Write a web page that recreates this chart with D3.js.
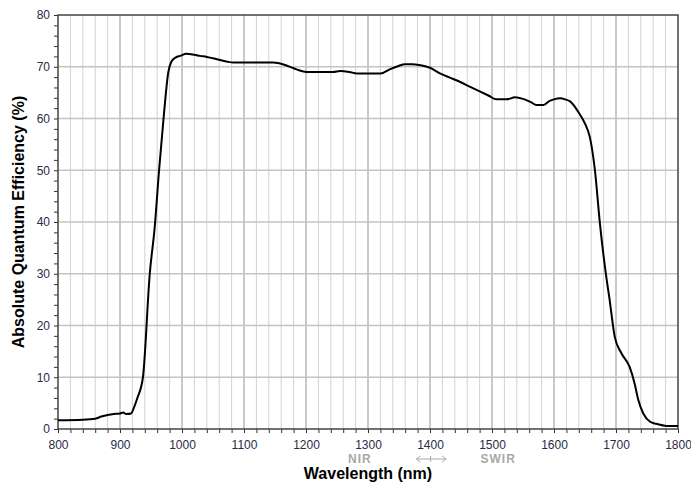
<!DOCTYPE html>
<html><head><meta charset="utf-8">
<script src="https://cdn.jsdelivr.net/npm/d3@7"></script>
<style>body{margin:0;background:#fff}svg{display:block}</style>
</head><body>
<svg id="c" width="691" height="484"></svg>
<script>
const wavelength = [800,840,860,870,880,890,900,905,910,918,922,928,937,948,956,963,970,978,983,990,997,1007,1020,1029,1040,1055,1072,1083,1100,1147,1165,1180,1201,1244,1255,1270,1282,1320,1335,1348,1360,1372,1384,1400,1416,1432,1448,1465,1481,1495,1507,1524,1537,1550,1562,1572,1583,1593,1600,1610,1618,1626,1639,1650,1658,1666,1674,1685,1689,1698,1709,1722,1730,1736,1744,1755,1765,1782,1800];
const efficiency = [1.7,1.8,2.0,2.4,2.7,2.9,3.0,3.2,2.9,3.0,4.0,6.0,10.0,30.0,39.0,50.0,59.7,69.0,71.0,71.8,72.1,72.5,72.3,72.1,71.9,71.5,71.0,70.8,70.8,70.8,70.4,69.7,69.0,69.0,69.2,69.0,68.7,68.7,69.5,70.1,70.5,70.5,70.3,69.8,68.7,67.9,67.1,66.1,65.2,64.4,63.7,63.7,64.1,63.8,63.2,62.6,62.6,63.4,63.7,63.9,63.7,63.3,61.3,59.0,56.3,50.0,39.8,28.8,25.6,17.8,14.6,12.0,8.8,5.6,3.0,1.4,1.0,0.6,0.6];
const xTicks = [800,900,1000,1100,1200,1300,1400,1500,1600,1700,1800];
const yTicks = [0,10,20,30,40,50,60,70,80];

const svg = d3.select("#c");
const L=58, R=678, T=15, B=429;
const x = d3.scaleLinear().domain([800,1800]).range([L,R]);
const y = d3.scaleLinear().domain([0,80]).range([B,T]);

const minorX = d3.range(820,1800,20).filter(v=>v%100!==0);
svg.append("g").selectAll("line").data(minorX).join("line")
  .attr("x1",d=>x(d)).attr("x2",d=>x(d)).attr("y1",T).attr("y2",B)
  .attr("stroke","#d2d2d2").attr("stroke-width",1);
svg.append("g").selectAll("line").data(xTicks.slice(1,-1)).join("line")
  .attr("x1",d=>x(d)).attr("x2",d=>x(d)).attr("y1",T).attr("y2",B)
  .attr("stroke","#bcbcbc").attr("stroke-width",1.6);
svg.append("g").selectAll("line").data(yTicks.slice(1,-1)).join("line")
  .attr("x1",L).attr("x2",R).attr("y1",d=>y(d)).attr("y2",d=>y(d))
  .attr("stroke","#c4c4c4").attr("stroke-width",1.6);

const xAxis = d3.axisBottom(x).tickValues(d3.range(800,1801,20)).tickSize(4).tickFormat(d=>xTicks.includes(d)?d:"");
const gx = svg.append("g").attr("transform",`translate(0,${B})`).call(xAxis);
gx.select(".domain").remove();
gx.selectAll("line").attr("stroke","#333");
gx.selectAll("text").attr("font-family","Liberation Sans, Arial, sans-serif").attr("font-size",12).attr("fill","#2a2a4a").attr("dy","1.05em");

const yAxis = d3.axisLeft(y).tickValues(d3.range(0,81,2)).tickSize(4).tickFormat(d=>yTicks.includes(d)?d:"");
const gy = svg.append("g").attr("transform",`translate(${L},0)`).call(yAxis);
gy.select(".domain").remove();
gy.selectAll("line").attr("stroke","#333");
gy.selectAll("text").attr("font-family","Liberation Sans, Arial, sans-serif").attr("font-size",12).attr("fill","#2a2a4a").attr("x",-8);

svg.append("rect").attr("x",L).attr("y",T).attr("width",R-L).attr("height",B-T)
  .attr("fill","none").attr("stroke","#444").attr("stroke-width",1.5);

const line = d3.line().x((d,i)=>x(wavelength[i])).y(d=>y(d)).curve(d3.curveMonotoneX);
svg.append("path").datum(efficiency).attr("d",line).attr("fill","none")
  .attr("stroke","#000").attr("stroke-width",2).attr("stroke-linejoin","round");

svg.append("text").attr("x",368).attr("y",479).attr("text-anchor","middle")
  .attr("font-family","Liberation Sans, Arial, sans-serif").attr("font-weight","bold").attr("font-size",16)
  .text("Wavelength (nm)");
svg.append("text").attr("transform",`translate(24,${(T+B)/2}) rotate(-90)`).attr("text-anchor","middle")
  .attr("font-family","Liberation Sans, Arial, sans-serif").attr("font-weight","bold").attr("font-size",16)
  .text("Absolute Quantum Efficiency (%)");

const ann = svg.append("g").attr("font-family","Liberation Sans, Arial, sans-serif").attr("font-size",12)
  .attr("fill","#a8a8a8").attr("font-weight","bold").attr("text-anchor","middle");
ann.append("text").attr("x",x(1287)).attr("y",463).attr("letter-spacing",1).text("NIR");
ann.append("text").attr("x",x(1510)).attr("y",463).attr("letter-spacing",1).text("SWIR");
const ay = 459, ax1 = x(1378), ax2 = x(1426);
svg.append("line").attr("x1",ax1).attr("x2",ax2).attr("y1",ay).attr("y2",ay).attr("stroke","#a8a8a8").attr("stroke-width",1);
svg.append("line").attr("x1",x(1401)).attr("x2",x(1401)).attr("y1",ay-3).attr("y2",ay+3).attr("stroke","#a8a8a8").attr("stroke-width",1);
svg.append("path").attr("d",`M${ax1+4},${ay-3}L${ax1},${ay}L${ax1+4},${ay+3}M${ax2-4},${ay-3}L${ax2},${ay}L${ax2-4},${ay+3}`)
  .attr("fill","none").attr("stroke","#a8a8a8").attr("stroke-width",1);
</script>
</body></html>
